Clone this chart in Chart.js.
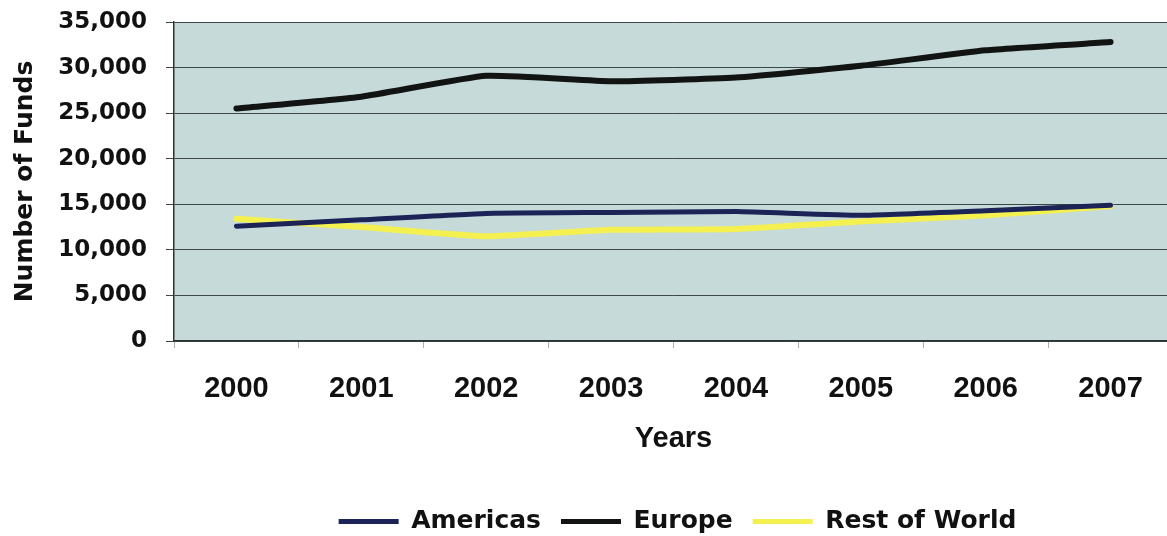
<!DOCTYPE html>
<html>
<head>
<meta charset="utf-8">
<script src="https://cdn.jsdelivr.net/npm/chart.js@4/dist/chart.umd.min.js"></script>
<style>
  html, body { margin: 0; padding: 0; background: #ffffff; overflow: hidden; }
  #wrap { position: relative; width: 1175px; height: 536px; }
</style>
</head>
<body>
<div id="wrap"><canvas id="chart"></canvas></div>
<script>
// Number of funds by region, 2000-2007
const years = ['2000', '2001', '2002', '2003', '2004', '2005', '2006', '2007'];
const americas = [12600, 13300, 14000, 14100, 14200, 13800, 14300, 14900];
const europe = [25500, 26800, 29100, 28500, 28900, 30200, 31900, 32800];
const restOfWorld = [13400, 12500, 11500, 12200, 12300, 13100, 13800, 14800];
const seriesNames = ['Americas', 'Europe', 'Rest of World'];
const yTickValues = [0, 5000, 10000, 15000, 20000, 25000, 30000, 35000];

const seriesColors = ['#1b2357', '#121414', '#f3f04f'];
const seriesWidths = [5, 6, 6];

// plot-area fill
const plotBackground = {
  id: 'plotBackground',
  beforeDraw(chart) {
    const { ctx, chartArea: a } = chart;
    ctx.save();
    ctx.fillStyle = '#c6dbd9';
    ctx.fillRect(a.left, a.top, a.right - a.left, a.bottom - a.top);
    ctx.restore();
  }
};

// place the legend row under the plot centre
const legendPlacement = {
  id: 'legendPlacement',
  afterLayout(chart) {
    const lg = chart.legend;
    const dx = 91, dy = 8;
    lg.left += dx; lg.right += dx;
    lg.top += dy; lg.bottom += dy;
  }
};

new Chart(document.getElementById('chart'), {
  type: 'line',
  data: {
    labels: years,
    datasets: [americas, europe, restOfWorld].map((values, i) => ({
      label: seriesNames[i],
      data: values,
      borderColor: seriesColors[i],
      backgroundColor: seriesColors[i],
      borderWidth: seriesWidths[i],
      borderCapStyle: 'round',
      borderJoinStyle: 'round',
      pointRadius: 0,
      tension: 0.15,
      fill: false
    }))
  },
  options: {
    responsive: true,
    maintainAspectRatio: false,
    animation: false,
    events: [],
    layout: { padding: { top: 22, left: 0, right: 2, bottom: 0 } },
    plugins: {
      tooltip: { enabled: false },
      legend: {
        position: 'bottom',
        labels: {
          color: '#111111',
          font: { family: 'DejaVu Sans', weight: 'bold', size: 25 },
          boxWidth: 60,
          boxHeight: 5,
          padding: 20,
          generateLabels(chart) {
            return chart.data.datasets.map((ds, i) => ({
              text: ds.label,
              fillStyle: ds.borderColor,
              strokeStyle: ds.borderColor,
              lineWidth: 0,
              fontColor: '#111111',
              hidden: false,
              datasetIndex: i
            }));
          }
        }
      }
    },
    scales: {
      x: {
        offset: true,
        grid: {
          display: true,
          offset: true,
          drawOnChartArea: false,
          drawTicks: true,
          tickLength: 7,
          tickColor: '#a8b0b0',
          lineWidth: 1
        },
        border: { display: true, color: '#2a3432', width: 1.5 },
        ticks: {
          color: '#111111',
          font: { family: 'Liberation Sans', weight: 'bold', size: 29 },
          padding: 24,
          maxRotation: 0
        },
        title: {
          display: true,
          text: 'Years',
          color: '#111111',
          font: { family: 'Liberation Sans', weight: 'bold', size: 29 },
          padding: { top: 0, bottom: 25 }
        },
        afterFit(scale) { scale.height = 140; }
      },
      y: {
        min: 0,
        max: 35000,
        afterBuildTicks(scale) {
          scale.ticks = yTickValues.map(v => ({ value: v }));
        },
        grid: {
          color: '#3b4847',
          lineWidth: 1,
          drawTicks: true,
          tickLength: 8,
          tickColor: '#3b4847'
        },
        border: { display: true, color: '#2a3432', width: 1.5 },
        ticks: {
          color: '#111111',
          font: { family: 'DejaVu Sans', weight: 'bold', size: 23 },
          padding: 19,
          callback: v => v.toLocaleString('en-US')
        },
        title: {
          display: true,
          text: 'Number of Funds',
          color: '#111111',
          font: { family: 'DejaVu Sans', weight: 'bold', size: 25 },
          padding: { top: 10, bottom: 0 }
        },
        afterFit(scale) {
          scale.width = 174;
          scale.paddingTop = 0;
          scale.paddingBottom = 0;
        }
      }
    }
  },
  plugins: [plotBackground, legendPlacement]
});
</script>
</body>
</html>
